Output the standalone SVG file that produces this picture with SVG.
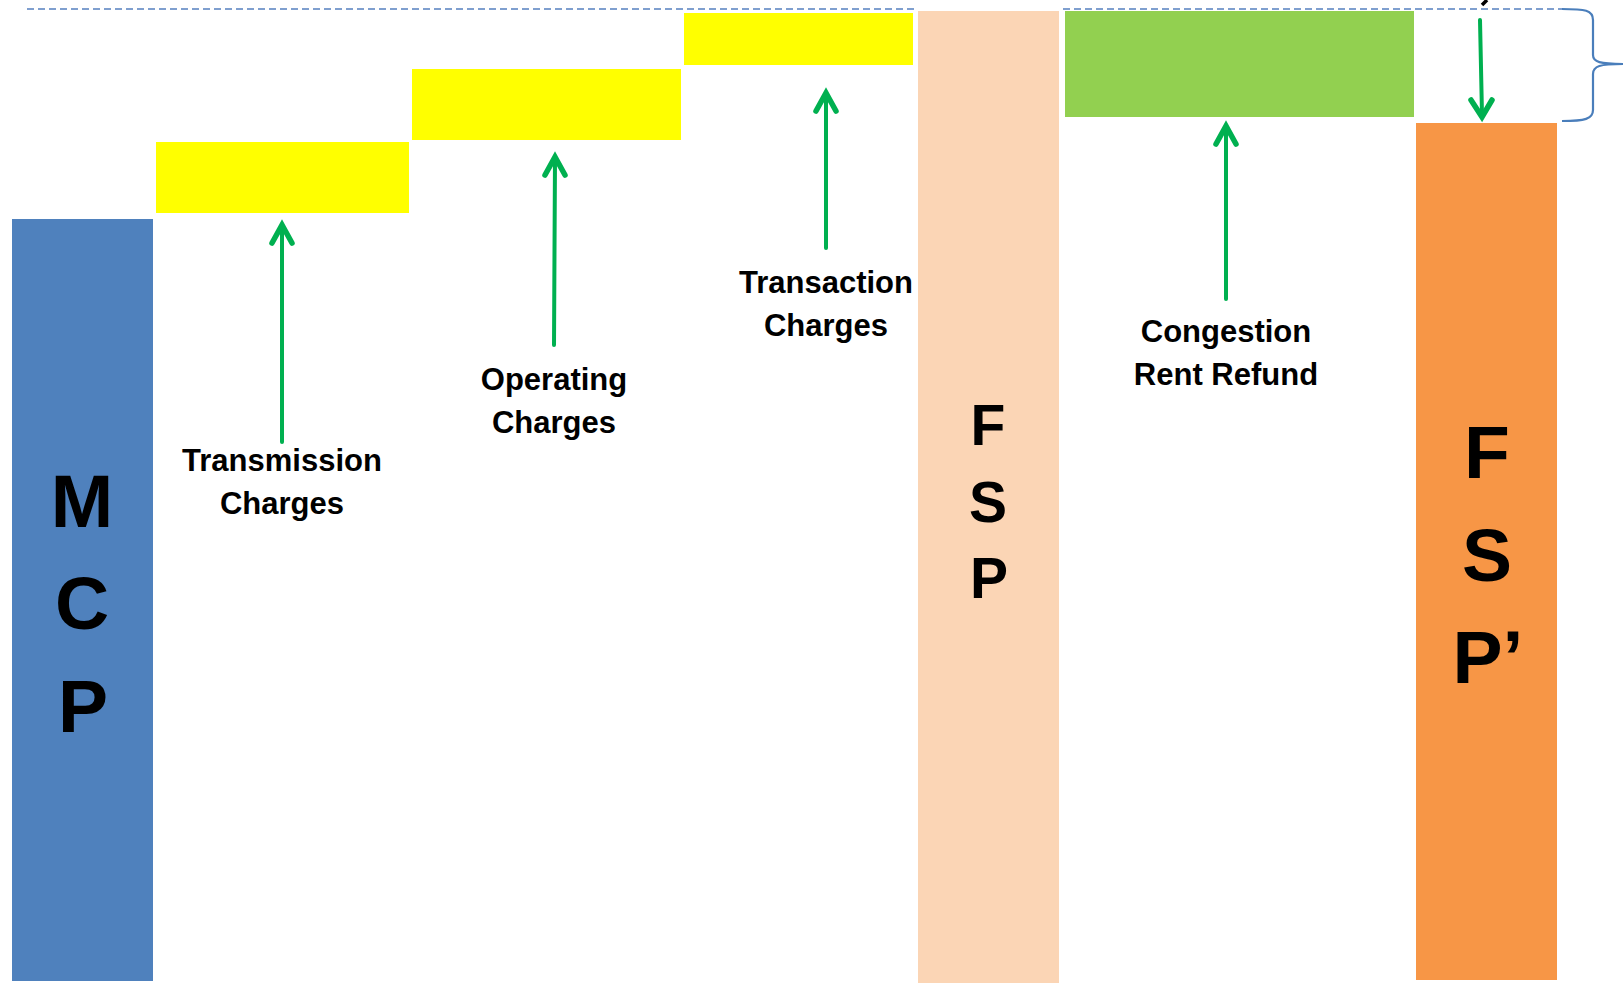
<svg xmlns="http://www.w3.org/2000/svg" width="1623" height="983" viewBox="0 0 1623 983">
<style>
.lbl{font-family:"Liberation Sans",Arial,sans-serif;font-weight:bold;font-size:31px;fill:#000;text-anchor:middle}
.big{font-family:"Liberation Sans",Arial,sans-serif;font-weight:bold;font-size:75px;fill:#000;text-anchor:middle}
.mid{font-family:"Liberation Sans",Arial,sans-serif;font-weight:bold;font-size:57px;fill:#000;text-anchor:middle}
.arr{stroke:#00b050;stroke-width:4;fill:none;stroke-linecap:round;stroke-linejoin:round}
.head{stroke:#00b050;stroke-width:5.5;fill:none;stroke-linecap:round;stroke-linejoin:miter}
.dash{stroke:#7f9fcf;stroke-width:2;stroke-dasharray:7 4;fill:none}
</style>
<rect width="1623" height="983" fill="#fff"/>
<g id="guides">
<line class="dash" x1="27" y1="9" x2="914" y2="9"/>
<line class="dash" x1="1063" y1="9" x2="1562" y2="9"/>
<path d="M1562,9 C1585,9 1593,10 1593,20 L1593,55 C1593,62 1600,64 1623,64 C1600,64 1593,66 1593,74 L1593,110 C1593,119 1585,121 1562,121" fill="none" stroke="#4a7ebb" stroke-width="2.2"/>
<line x1="1487" y1="0" x2="1482" y2="5" stroke="#000" stroke-width="3.5"/>
</g>
<g id="mcp">
<rect x="12" y="219" width="141" height="762" fill="#4f81bd"/>
<text class="big" x="82" y="527">M</text>
<text class="big" x="82" y="629">C</text>
<text class="big" x="83" y="732">P</text>
</g>
<g id="transmission">
<rect x="156" y="142" width="253" height="71" fill="#ffff00"/>
<text class="lbl" x="282" y="471">Transmission</text>
<text class="lbl" x="282" y="514">Charges</text>
</g>
<g id="operating">
<rect x="412" y="69" width="269" height="71" fill="#ffff00"/>
<text class="lbl" x="554" y="390">Operating</text>
<text class="lbl" x="554" y="433">Charges</text>
</g>
<g id="transaction">
<rect x="684" y="13" width="229" height="52" fill="#ffff00"/>
<text class="lbl" x="826" y="293">Transaction</text>
<text class="lbl" x="826" y="336">Charges</text>
</g>
<g id="fsp">
<rect x="918" y="11" width="141" height="972" fill="#fbd5b5"/>
<text class="mid" x="988" y="445">F</text>
<text class="mid" x="988" y="522">S</text>
<text class="mid" x="989" y="598">P</text>
</g>
<g id="congestion">
<rect x="1065" y="11" width="349" height="106" fill="#92d050"/>
<text class="lbl" x="1226" y="342">Congestion</text>
<text class="lbl" x="1226" y="385">Rent Refund</text>
</g>
<g id="fspprime">
<rect x="1416" y="123" width="141" height="857" fill="#f79646"/>
<text class="big" x="1487" y="478">F</text>
<text class="big" x="1487" y="581">S</text>
<text class="big" x="1488" y="683">P’</text>
</g>
<g id="connectors">
<line class="arr" x1="282" y1="442" x2="282" y2="226"/>
<polyline class="head" points="272,243 282,225 292,243"/>
<line class="arr" x1="554" y1="345" x2="555" y2="158"/>
<polyline class="head" points="545,175 555,157 565,175"/>
<line class="arr" x1="826" y1="248" x2="826" y2="94"/>
<polyline class="head" points="816,111 826,93 836,111"/>
<line class="arr" x1="1226" y1="299" x2="1226" y2="127"/>
<polyline class="head" points="1216,144 1226,126 1236,144"/>
<line class="arr" x1="1480" y1="20" x2="1482" y2="115"/>
<polyline class="head" points="1471,100 1482,117 1492,100"/>
</g>
</svg>
